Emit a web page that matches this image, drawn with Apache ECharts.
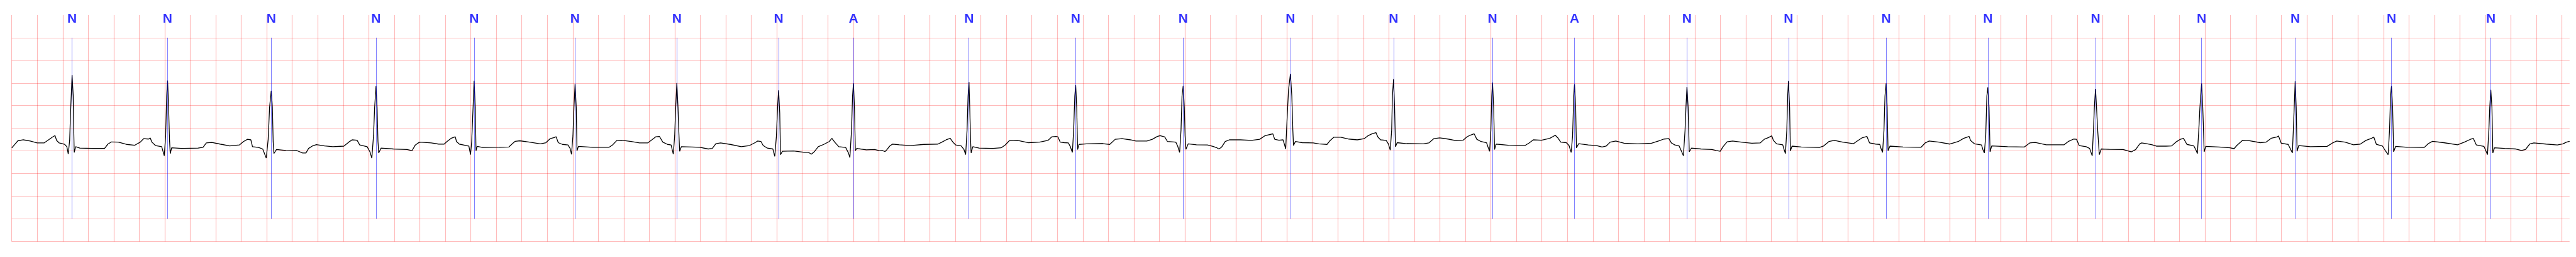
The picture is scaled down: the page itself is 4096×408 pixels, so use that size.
<!DOCTYPE html>
<html>
<head>
<meta charset="utf-8">
<script src="https://cdn.jsdelivr.net/npm/echarts@6/dist/echarts.min.js"></script>
<style>
html,body{margin:0;padding:0;background:#ffffff;}
#chart{width:4096px;height:408px;}
</style>
</head>
<body>
<div id="chart"></div>
<script>
// ECG trace, time in seconds, amplitude in mV in six strips
const trace1 = [[0.000,0.068],[0.020,0.131],[0.048,0.224],[0.091,0.245],[0.145,0.219],[0.199,0.176],[0.253,0.176],[0.285,0.237],[0.318,0.303],[0.339,0.338],[0.352,0.232],[0.372,0.176],[0.415,0.144],[0.432,0.093],[0.443,-0.066],[0.454,0.232],[0.462,0.913],[0.473,1.677],[0.482,1.215],[0.486,0.459],[0.490,-0.033],[0.501,0.093],[0.534,0.061],[0.641,0.055],[0.728,0.055],[0.754,0.151],[0.782,0.199],[0.836,0.194],[0.900,0.144],[0.965,0.126],[1.008,0.194],[1.034,0.270],[1.073,0.262],[1.086,0.287],[1.099,0.194],[1.127,0.119],[1.176,0.093],[1.196,-0.108],[1.207,0.333],[1.215,1.215],[1.222,1.556],[1.230,0.963],[1.237,0.257],[1.243,-0.058],[1.254,0.068],[1.332,0.055],[1.461,0.061],[1.500,0.081],[1.526,0.176],[1.569,0.187],[1.634,0.151],[1.709,0.111],[1.785,0.131],[1.817,0.207],[1.849,0.257],[1.875,0.245],[1.888,0.093],[1.936,0.076],[1.968,0.043],[1.996,-0.159],[2.011,0.257],[2.022,0.963],[2.035,1.329],[2.044,0.963],[2.050,0.207],[2.056,-0.058],[2.076,0.030],[2.151,0.010],[2.238,0.005],[2.281,-0.045],[2.307,-0.045],[2.328,0.055],[2.356,0.106],[2.389,0.139],[2.453,0.111],[2.518,0.093],[2.604,0.106],[2.643,0.194],[2.669,0.245],[2.708,0.237],[2.729,0.131],[2.787,0.093],[2.809,-0.020],[2.824,-0.159],[2.837,0.333],[2.846,0.963],[2.857,1.435],[2.865,0.963],[2.872,0.207],[2.878,-0.045],[2.896,0.061],[2.993,0.043],[3.100,0.030],[3.139,0.005],[3.165,0.131],[3.198,0.194],[3.290,0.176]];
const trace2 = [[3.294,0.169],[3.348,0.151],[3.391,0.151],[3.413,0.207],[3.445,0.277],[3.478,0.313],[3.488,0.207],[3.510,0.151],[3.564,0.119],[3.585,0.106],[3.598,-0.083],[3.607,0.207],[3.618,0.963],[3.626,1.548],[3.635,0.963],[3.641,0.005],[3.650,0.101],[3.693,0.076],[3.823,0.081],[3.898,0.086],[3.920,0.144],[3.948,0.212],[3.985,0.224],[4.060,0.194],[4.146,0.156],[4.189,0.182],[4.222,0.270],[4.254,0.295],[4.269,0.313],[4.286,0.182],[4.319,0.144],[4.362,0.131],[4.379,0.055],[4.390,-0.076],[4.401,0.333],[4.409,0.963],[4.418,1.478],[4.427,0.963],[4.433,0.005],[4.444,0.101],[4.556,0.081],[4.685,0.081],[4.711,0.131],[4.746,0.232],[4.782,0.237],[4.858,0.207],[4.923,0.176],[4.987,0.176],[5.020,0.245],[5.052,0.313],[5.080,0.318],[5.106,0.194],[5.143,0.144],[5.171,0.131],[5.188,-0.071],[5.199,0.333],[5.207,0.963],[5.216,1.498],[5.225,0.963],[5.231,0.459],[5.238,-0.008],[5.251,0.093],[5.333,0.086],[5.397,0.081],[5.462,0.043],[5.494,0.055],[5.522,0.161],[5.559,0.176],[5.635,0.144],[5.721,0.093],[5.786,0.119],[5.829,0.182],[5.850,0.219],[5.876,0.207],[5.893,0.119],[5.926,0.061],[5.969,0.043],[5.984,-0.121],[5.997,0.333],[6.006,0.963],[6.014,1.341],[6.023,0.837],[6.029,-0.083],[6.044,-0.008],[6.131,0.000],[6.217,-0.033],[6.249,-0.033],[6.271,-0.071],[6.293,-0.020],[6.325,0.093],[6.368,0.144],[6.411,0.207],[6.432,0.277],[6.454,0.194],[6.486,0.093],[6.540,0.076],[6.562,-0.045],[6.573,-0.146],[6.586,0.459],[6.594,1.215],[6.601,1.493],[6.609,0.963],[6.616,0.005],[6.627,0.055]];
const trace3 = [[6.637,0.050],[6.702,0.025],[6.767,0.030],[6.799,0.010],[6.831,0.005],[6.849,-0.015],[6.864,0.030],[6.885,0.106],[6.907,0.151],[6.961,0.136],[7.047,0.119],[7.155,0.144],[7.263,0.151],[7.295,0.194],[7.328,0.245],[7.360,0.277],[7.366,0.303],[7.381,0.194],[7.403,0.131],[7.446,0.111],[7.468,0.030],[7.481,-0.083],[7.492,0.459],[7.500,1.215],[7.507,1.523],[7.513,0.963],[7.520,0.207],[7.524,-0.045],[7.537,0.093],[7.587,0.061],[7.694,0.055],[7.759,0.068],[7.791,0.131],[7.824,0.227],[7.888,0.232],[7.975,0.182],[8.061,0.194],[8.126,0.232],[8.158,0.313],[8.190,0.320],[8.205,0.308],[8.223,0.194],[8.255,0.182],[8.287,0.176],[8.302,0.093],[8.318,-0.033],[8.328,0.459],[8.337,1.215],[8.344,1.455],[8.352,0.963],[8.359,0.030],[8.370,0.144],[8.428,0.156],[8.557,0.161],[8.611,0.144],[8.654,0.257],[8.708,0.270],[8.773,0.245],[8.816,0.219],[8.902,0.219],[8.945,0.257],[8.984,0.320],[9.006,0.338],[9.042,0.308],[9.064,0.207],[9.129,0.194],[9.144,0.106],[9.159,-0.033],[9.170,0.459],[9.178,1.215],[9.187,1.437],[9.196,0.963],[9.202,0.333],[9.209,0.035],[9.226,0.156],[9.291,0.136],[9.377,0.131],[9.420,0.101],[9.452,0.068],[9.467,0.043],[9.489,0.086],[9.517,0.207],[9.549,0.245],[9.636,0.245],[9.722,0.232],[9.787,0.257],[9.830,0.338],[9.869,0.363],[9.890,0.378],[9.905,0.257],[9.938,0.237],[9.970,0.245]];
const trace4 = [[9.980,0.156],[9.991,0.043],[10.002,0.711],[10.013,1.341],[10.028,1.699],[10.039,1.215],[10.047,0.459],[10.052,0.119],[10.067,0.207],[10.121,0.182],[10.207,0.176],[10.250,0.156],[10.315,0.144],[10.336,0.219],[10.369,0.303],[10.423,0.303],[10.487,0.262],[10.552,0.245],[10.606,0.270],[10.638,0.338],[10.671,0.383],[10.699,0.403],[10.714,0.308],[10.735,0.245],[10.779,0.232],[10.796,0.156],[10.811,0.018],[10.822,0.459],[10.828,1.215],[10.837,1.588],[10.845,0.963],[10.852,0.093],[10.865,0.182],[10.940,0.161],[11.070,0.156],[11.113,0.176],[11.152,0.270],[11.199,0.287],[11.264,0.262],[11.329,0.227],[11.383,0.237],[11.411,0.308],[11.436,0.345],[11.469,0.378],[11.490,0.257],[11.523,0.207],[11.566,0.182],[11.577,0.093],[11.590,-0.008],[11.600,0.459],[11.607,1.215],[11.613,1.510],[11.622,0.963],[11.629,0.030],[11.641,0.151],[11.738,0.126],[11.868,0.119],[11.900,0.176],[11.933,0.245],[11.997,0.237],[12.062,0.277],[12.105,0.345],[12.127,0.282],[12.148,0.194],[12.192,0.182],[12.213,0.119],[12.230,-0.033],[12.241,0.333],[12.250,1.215],[12.256,1.473],[12.265,0.963],[12.271,0.068],[12.289,0.161],[12.364,0.131],[12.429,0.119],[12.472,0.086],[12.504,0.106],[12.536,0.194],[12.580,0.219],[12.645,0.169],[12.752,0.156],[12.860,0.169],[12.914,0.219],[12.957,0.262],[12.996,0.270],[13.016,0.176],[13.043,0.131],[13.076,0.111],[13.097,-0.020],[13.110,-0.108],[13.123,0.459],[13.130,0.963],[13.138,1.412],[13.147,0.963],[13.156,-0.020],[13.173,0.061],[13.248,0.043],[13.334,0.030]];
const trace5 = [[13.367,0.010],[13.399,-0.008],[13.421,0.093],[13.453,0.202],[13.496,0.219],[13.583,0.187],[13.647,0.169],[13.712,0.176],[13.744,0.257],[13.777,0.295],[13.803,0.333],[13.816,0.232],[13.841,0.156],[13.889,0.136],[13.900,0.030],[13.910,-0.058],[13.921,0.459],[13.928,1.215],[13.934,1.543],[13.943,0.963],[13.949,0.000],[13.962,0.106],[14.035,0.086],[14.176,0.076],[14.208,0.106],[14.251,0.207],[14.294,0.232],[14.359,0.194],[14.445,0.161],[14.467,0.207],[14.510,0.287],[14.549,0.320],[14.570,0.176],[14.618,0.151],[14.650,0.144],[14.661,0.043],[14.672,-0.033],[14.683,0.459],[14.691,1.215],[14.700,1.493],[14.708,0.963],[14.715,0.005],[14.730,0.106],[14.833,0.086],[14.974,0.081],[15.006,0.176],[15.038,0.219],[15.114,0.194],[15.200,0.151],[15.265,0.207],[15.308,0.277],[15.351,0.320],[15.362,0.232],[15.394,0.156],[15.448,0.131],[15.459,0.030],[15.470,-0.045],[15.481,0.333],[15.490,1.215],[15.498,1.404],[15.507,0.963],[15.515,-0.020],[15.528,0.111],[15.653,0.093],[15.783,0.086],[15.826,0.176],[15.869,0.187],[15.955,0.136],[16.096,0.136],[16.128,0.207],[16.171,0.262],[16.193,0.257],[16.214,0.119],[16.268,0.093],[16.296,0.055],[16.316,-0.108],[16.326,0.459],[16.333,0.963],[16.342,1.372],[16.350,0.963],[16.359,0.459],[16.372,-0.083],[16.387,0.043],[16.452,0.035],[16.559,0.030],[16.624,-0.020],[16.657,0.030],[16.689,0.156]];
const trace6 = [[16.704,0.176],[16.743,0.161],[16.786,0.136],[16.819,0.106],[16.895,0.106],[16.939,0.111],[16.972,0.194],[17.004,0.252],[17.032,0.277],[17.059,0.144],[17.113,0.111],[17.130,0.018],[17.141,-0.058],[17.152,0.459],[17.161,0.963],[17.174,1.488],[17.183,0.963],[17.189,0.459],[17.194,-0.020],[17.207,0.101],[17.309,0.086],[17.396,0.068],[17.429,0.050],[17.450,0.119],[17.494,0.232],[17.548,0.227],[17.635,0.182],[17.679,0.194],[17.722,0.282],[17.766,0.308],[17.777,0.333],[17.799,0.169],[17.853,0.144],[17.875,0.018],[17.886,-0.045],[17.897,0.711],[17.908,1.538],[17.916,0.963],[17.923,-0.008],[17.936,0.119],[18.027,0.093],[18.158,0.101],[18.201,0.176],[18.234,0.219],[18.299,0.194],[18.365,0.136],[18.419,0.151],[18.463,0.232],[18.506,0.277],[18.524,0.308],[18.545,0.144],[18.593,0.106],[18.615,0.005],[18.637,-0.083],[18.648,0.459],[18.656,1.215],[18.663,1.430],[18.672,0.963],[18.680,-0.020],[18.696,0.101],[18.789,0.081],[18.920,0.076],[18.952,0.161],[18.985,0.212],[19.072,0.182],[19.181,0.136],[19.235,0.194],[19.279,0.252],[19.305,0.277],[19.329,0.131],[19.388,0.101],[19.403,0.005],[19.416,-0.083],[19.427,0.459],[19.434,0.963],[19.442,1.349],[19.451,0.963],[19.458,-0.045],[19.471,0.068],[19.551,0.055],[19.638,0.043],[19.682,0.010],[19.714,0.030],[19.747,0.151],[19.780,0.176],[19.877,0.151],[19.964,0.131],[20.008,0.156],[20.036,0.194],[20.060,0.212]];

// Beat annotations
const beatTime = [0.473,1.222,2.035,2.857,3.626,4.418,5.216,6.014,6.601,7.507,8.344,9.187,10.028,10.837,11.613,12.256,13.138,13.934,14.700,15.498,16.342,17.174,17.908,18.663,19.442];
const beatType = ['N','N','N','N','N','N','N','N','A','N','N','N','N','N','N','A','N','N','N','N','N','N','N','N','N'];

// Axis settings (seconds / mV)
const xRange = [0, 20.06];
const xStep = 0.2;
const yRange = [-2, 3];
const yStep = 0.5;
const markerSpan = [-1.5, 2.5];

const ecg = [].concat(trace1, trace2, trace3, trace4, trace5, trace6);

const gridColor = 'rgba(255,0,0,0.27)';
const chart = echarts.init(document.getElementById('chart'), null, {renderer: 'canvas'});
chart.setOption({
  animation: false,
  backgroundColor: '#ffffff',
  grid: {left: 18.7, right: 10.2, top: 23.9, bottom: 24.6, containLabel: false},
  xAxis: {
    type: 'value', min: xRange[0], max: xRange[1], interval: xStep,
    axisLine: {show: false}, axisTick: {show: false}, axisLabel: {show: false},
    splitLine: {show: true, showMinLine: true, showMaxLine: false, lineStyle: {color: gridColor, width: 1.2}}
  },
  yAxis: {
    type: 'value', min: yRange[0], max: yRange[1], interval: yStep,
    axisLine: {show: false}, axisTick: {show: false}, axisLabel: {show: false},
    splitLine: {show: true, showMinLine: true, showMaxLine: false, lineStyle: {color: gridColor, width: 1.2}}
  },
  series: [
    {
      type: 'line',
      data: beatTime.map(t => [t, markerSpan[1]]),
      symbol: 'none',
      lineStyle: {opacity: 0},
      silent: true,
      z: 2,
      markLine: {
        silent: true,
        symbol: ['none', 'none'],
        label: {show: false},
        lineStyle: {color: 'rgba(0,0,255,0.5)', width: 1, type: 'solid'},
        data: beatTime.map(t => [{coord: [t, markerSpan[1]]}, {coord: [t, markerSpan[0]]}])
      }
    },
    {
      type: 'line',
      data: ecg,
      symbol: 'none',
      smooth: false,
      sampling: false,
      lineStyle: {color: '#000000', width: 1.3},
      z: 3
    },
    {
      type: 'scatter',
      data: beatTime.map((t, i) => ({value: [t, yRange[1]], name: beatType[i]})),
      symbolSize: 0,
      clip: false,
      z: 4,
      label: {
        show: true,
        position: 'bottom',
        distance: -4,
        formatter: p => p.name,
        color: '#0000ff',
        fontWeight: 'bold',
        fontSize: 21,
        fontFamily: 'Liberation Sans, Arial, sans-serif'
      }
    }
  ]
});
</script>
</body>
</html>
